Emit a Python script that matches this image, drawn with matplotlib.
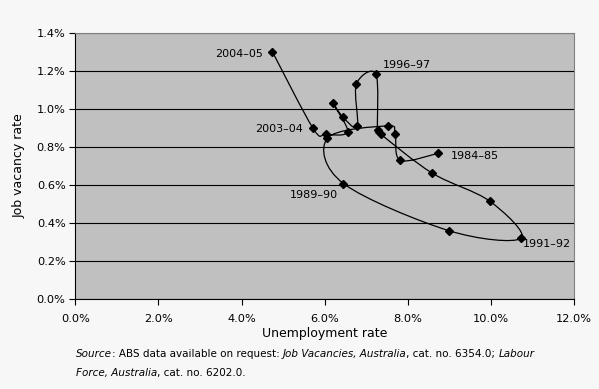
import numpy as np
import matplotlib
matplotlib.use('Agg')
import matplotlib.pyplot as plt
from matplotlib.path import Path
from matplotlib.patches import PathPatch
from matplotlib.ticker import PercentFormatter

# Beveridge curve, Australia, financial years 1984-85 to 2004-05
years = ['1984–85', '1985–86', '1986–87', '1987–88', '1988–89', '1989–90',
         '1990–91', '1991–92', '1992–93', '1993–94', '1994–95', '1995–96',
         '1996–97', '1997–98', '1998–99', '1999–00', '2000–01', '2001–02',
         '2002–03', '2003–04', '2004–05']
unemployment = [8.73, 7.82, 7.69, 7.51, 6.06, 6.45, 8.99, 10.72, 9.97, 8.59,
                7.35, 7.27, 7.23, 6.76, 6.78, 6.43, 6.19, 6.55, 6.02, 5.72, 4.74]
vacancy = [0.766, 0.729, 0.866, 0.910, 0.845, 0.607, 0.359, 0.319, 0.514, 0.661,
           0.866, 0.889, 1.183, 1.129, 0.908, 0.958, 1.032, 0.880, 0.866, 0.897, 1.300]
labelled = ['1984–85', '1989–90', '1991–92', '1996–97', '2003–04', '2004–05']

x_ticks = [0, 2, 4, 6, 8, 10, 12]
y_ticks = [0.0, 0.2, 0.4, 0.6, 0.8, 1.0, 1.2, 1.4]

fig = plt.figure(figsize=(5.99, 3.89), dpi=100, facecolor='#f7f7f7')
ax = fig.add_axes([75.3 / 599, 1 - 299 / 389, (574.2 - 75.3) / 599, (299 - 32.7) / 389])
ax.set_facecolor('#c0c0c0')
ax.set_xlim(0, 12)
ax.set_ylim(0, 1.4)
ax.set_xticks(x_ticks)
ax.set_yticks(y_ticks)
ax.xaxis.set_major_formatter(PercentFormatter(xmax=100, decimals=1))
ax.yaxis.set_major_formatter(PercentFormatter(xmax=100, decimals=1))
ax.tick_params(axis='both', direction='out', length=4, width=0.8, color='black',
               labelsize=8.2, pad=3)
ax.tick_params(axis='x', pad=7)
ax.set_axisbelow(True)
ax.yaxis.grid(True, color='black', linewidth=0.8)
for side in ['top', 'right']:
    ax.spines[side].set_color('#808080')
for side in ['left', 'bottom']:
    ax.spines[side].set_color('black')
    ax.spines[side].set_linewidth(0.8)

ax.set_xlabel('Unemployment rate', fontsize=9, labelpad=2)
ax.set_ylabel('Job vacancy rate', fontsize=9, labelpad=8)

# smoothed line (Catmull-Rom style Bezier, computed in display space like Excel)
pts = ax.transData.transform(np.column_stack([unemployment, vacancy]))
n = len(pts)
verts = [pts[0]]
codes = [Path.MOVETO]
for i in range(n - 1):
    p0 = pts[i - 1] if i > 0 else pts[i]
    p1 = pts[i]
    p2 = pts[i + 1]
    p3 = pts[i + 2] if i + 2 < n else pts[i + 1]
    c1 = p1 + (p2 - p0) / 6
    c2 = p2 - (p3 - p1) / 6
    verts += [c1, c2, p2]
    codes += [Path.CURVE4] * 3
verts = ax.transData.inverted().transform(np.array(verts))
ax.add_patch(PathPatch(Path(verts, codes), facecolor='none', edgecolor='black',
                       linewidth=0.9, zorder=3))
ax.plot(unemployment, vacancy, linestyle='none', marker='D', markersize=4.2,
        color='black', zorder=4)

# point labels
offsets = {
    '1984–85': (13, -3, 'left'),
    '1989–90': (-6, -11, 'right'),
    '1991–92': (2, -6, 'left'),
    '1996–97': (7, 9, 'left'),
    '2003–04': (-10, -1, 'right'),
    '2004–05': (-9, -2, 'right'),
}
for yr in labelled:
    i = years.index(yr)
    dx, dy, ha = offsets[yr]
    ax.annotate(yr, (unemployment[i], vacancy[i]), xytext=(dx, dy),
                textcoords='offset pixels', ha=ha, va='center', fontsize=8)

# source note with italic titles
pieces = [
    [('Source', 'italic'), (': ABS data available on request: ', 'normal'),
     ('Job Vacancies, Australia', 'italic'), (', cat. no. 6354.0; ', 'normal'),
     ('Labour', 'italic')],
    [('Force, Australia', 'italic'), (', cat. no. 6202.0.', 'normal')],
]
renderer = fig.canvas.get_renderer()
for row, y_px in zip(pieces, [354, 373]):
    x_px = 75.5
    for txt, style in row:
        t = fig.text(x_px / 599, 1 - y_px / 389, txt, fontsize=7.5, style=style,
                     va='center', ha='left')
        x_px += t.get_window_extent(renderer).width

fig.savefig('out.png', dpi=100, facecolor=fig.get_facecolor())
